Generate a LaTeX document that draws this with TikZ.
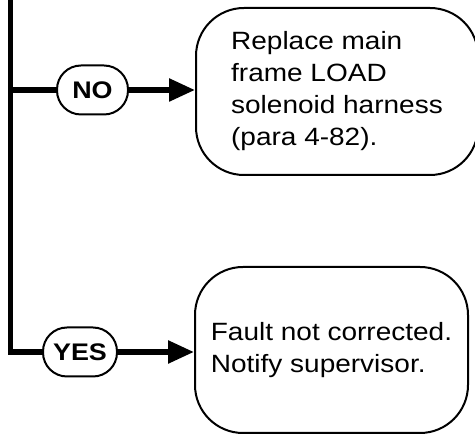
\documentclass[tikz,border=0pt]{standalone}
\usepackage{fontspec}
\setmainfont{Liberation Sans}[FakeStretch=1.12]
\usetikzlibrary{arrows.meta}
\tikzset{
  answer/.style={draw,line width=2pt,rounded corners=24pt,minimum width=71pt,minimum height=49pt,inner sep=0pt,font=\fontsize{24}{24}\selectfont\bfseries},
  action/.style={draw,line width=2pt,rounded corners=48pt,align=left,inner sep=0pt,font=\fontsize{25}{32}\selectfont},
  flow/.style={line width=5.5pt},
}
\begin{document}
\begin{tikzpicture}[x=1pt,y=1pt]
\useasboundingbox (0,0) rectangle (475,436);
\coordinate (top) at (10.5,440);
\node[answer] (no) at (92.5,346) {NO};
\node[answer,minimum width=74pt] (yes) at (80,84) {YES};
\node[action,minimum width=282pt,minimum height=167pt] (fix) at (337,344.5) {Replace main\\frame LOAD\\solenoid harness\\(para 4-82).};
\node[action,minimum width=273pt,minimum height=166pt] (tell) at (331.5,86) {Fault not corrected.\\Notify supervisor.};
\draw[flow] (top) |- (yes.west);
\draw[flow] (no.west) -- (no.west -| top);
\draw[flow,-{Triangle[length=26pt,width=22pt]}] (no.east) -- (no.east -| fix.west);
\draw[flow,-{Triangle[length=26pt,width=22pt]}] (yes.east) -- (yes.east -| tell.west);
\end{tikzpicture}
\end{document}
